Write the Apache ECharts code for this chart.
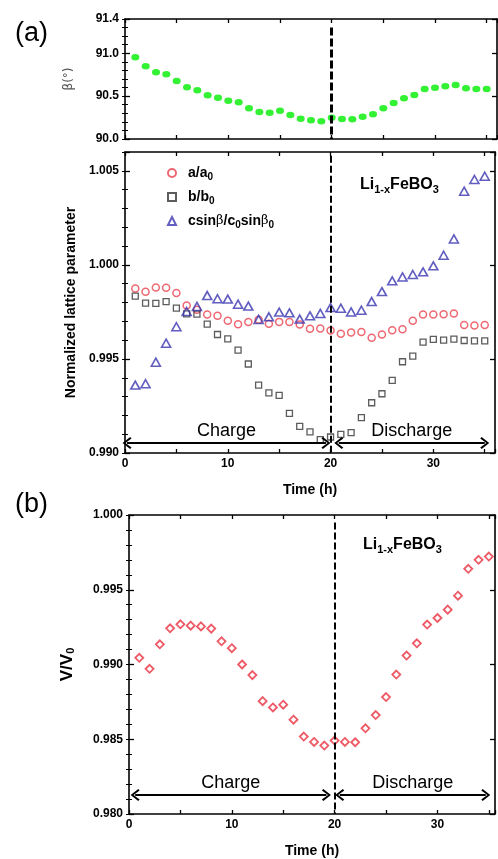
<!DOCTYPE html>
<html>
<head>
<meta charset="utf-8">
<script src="https://cdn.jsdelivr.net/npm/echarts@6/dist/echarts.min.js"></script>
<style>html,body{margin:0;padding:0;background:#fff}#c{width:498px;height:859px}</style>
</head>
<body>
<div id="c"></div>
<script>
// ---- data ----
const hours = [1,2,3,4,5,6,7,8,9,10,11,12,13,14,15,16,17,18,19,20,21,22,23,24,25,26,27,28,29,30,31,32,33,34,35];
const betaDeg = [90.953,90.848,90.778,90.755,90.677,90.603,90.568,90.510,90.482,90.447,90.428,90.358,90.315,90.307,90.331,90.280,90.237,90.218,90.206,90.249,90.233,90.229,90.261,90.288,90.358,90.420,90.475,90.513,90.583,90.599,90.615,90.630,90.591,90.583,90.583];
const aRatio = [0.99874,0.99857,0.99880,0.99878,0.99850,0.99784,0.99761,0.99736,0.99729,0.99703,0.99685,0.99696,0.99708,0.99687,0.99697,0.99696,0.99683,0.99660,0.99662,0.99651,0.99634,0.99641,0.99643,0.99612,0.99630,0.99653,0.99658,0.99703,0.99736,0.99736,0.99738,0.99742,0.99681,0.99678,0.99680];
const bRatio = [0.99834,0.99797,0.99795,0.99805,0.99770,0.99740,0.99738,0.99685,0.99630,0.99607,0.99547,0.99473,0.99361,0.99320,0.99306,0.99211,0.99142,0.99112,0.99071,0.99085,0.99099,0.99108,0.99188,0.99267,0.99315,0.99386,0.99485,0.99515,0.99589,0.99604,0.99600,0.99605,0.99598,0.99596,0.99596];
const cRatio = [0.99361,0.99368,0.99483,0.99584,0.99671,0.99752,0.99779,0.99837,0.99820,0.99818,0.99791,0.99781,0.99710,0.99724,0.99749,0.99745,0.99712,0.99729,0.99742,0.99773,0.99770,0.99750,0.99759,0.99805,0.99858,0.99915,0.99936,0.99949,0.99963,0.99995,1.00051,1.00138,1.00392,1.00454,1.00471];
const vRatio = [0.99045,0.98971,0.99135,0.99242,0.99269,0.99260,0.99255,0.99240,0.99155,0.99109,0.99000,0.98929,0.98755,0.98713,0.98731,0.98631,0.98518,0.98482,0.98458,0.98491,0.98482,0.98480,0.98573,0.98662,0.98782,0.98933,0.99060,0.99142,0.99267,0.99311,0.99367,0.99460,0.99640,0.99700,0.99722];
const seriesNames = ['a/a0', 'b/b0', 'csinβ/c0sinβ0'];
const switchHour = 20;
const betaTicks = [90.0, 90.5, 91.0, 91.4];
const latticeTicks = [0.990, 0.995, 1.000, 1.005];
const volumeTicks = [0.980, 0.985, 0.990, 0.995, 1.000];
const timeTicks = [0, 10, 20, 30];

// ---- styling ----
const FF = '"Liberation Sans", Arial, sans-serif';
const lineBlack = {color: '#000', width: 1.6};
const pair = (xs, ys) => xs.map((x, i) => [x, ys[i]]);

function xAxes(grid, max, showLabels, name) {
  const base = {
    type: 'value', gridIndex: grid, min: 0, max: max, interval: 5,
    axisLine: {show: true, onZero: false, lineStyle: lineBlack},
    axisTick: {show: true, inside: true, length: 4, lineStyle: {color: '#000', width: 1.3}},
    splitLine: {show: false}
  };
  return [
    Object.assign({}, base, {
      position: 'bottom',
      axisLabel: {show: showLabels, margin: 5, fontFamily: FF, fontWeight: 'bold', fontSize: 12, color: '#000',
        formatter: v => timeTicks.includes(v) ? String(v) : ''},
      name: name || '', nameLocation: 'middle', nameGap: 30,
      nameTextStyle: {fontFamily: FF, fontWeight: 'bold', fontSize: 14, color: '#000'}
    }),
    Object.assign({}, base, {position: 'top', axisLabel: {show: false}})
  ];
}

function yAxes(grid, min, max, interval, minor, digits, labels, name, nameGap, nameStyle) {
  const major = {
    type: 'value', gridIndex: grid, min: min, max: max, interval: interval,
    axisLine: {show: true, onZero: false, lineStyle: lineBlack},
    axisTick: {show: true, inside: true, length: 5, lineStyle: {color: '#000', width: 1.3}},
    splitLine: {show: false}
  };
  const minorAx = {
    type: 'value', gridIndex: grid, min: min, max: max, interval: minor,
    axisLine: {show: false}, axisLabel: {show: false},
    axisTick: {show: true, inside: true, length: 3, lineStyle: {color: '#000', width: 1}},
    splitLine: {show: false}
  };
  return [
    Object.assign({}, major, {
      position: 'left',
      axisLabel: {show: true, margin: 6, fontFamily: FF, fontWeight: 'bold', fontSize: 12, color: '#000',
        showMaxLabel: true,
        formatter: v => labels.some(t => Math.abs(t - v) < 1e-7) ? v.toFixed(digits) : ''},
      name: name, nameLocation: 'middle', nameGap: nameGap, nameTextStyle: nameStyle
    }),
    Object.assign({}, minorAx, {position: 'left'}),
    Object.assign({}, major, {position: 'right', axisLabel: {show: false}}),
    Object.assign({}, minorAx, {position: 'right'})
  ];
}

const chevron = 'path://M5,0 L10,8.4 L8.7,10 L5,3.2 L1.3,10 L0,8.4 Z';
function arrowLine(x0, x1, y, text) {
  return [
    {coord: [x0, y], symbol: chevron, symbolSize: [12, 9]},
    {coord: [x1, y], symbol: chevron, symbolSize: [12, 9],
     lineStyle: {type: 'solid', width: 2, color: '#000'},
     label: {show: true, formatter: text, position: 'insideMiddleTop', distance: 3,
       fontFamily: FF, fontSize: 18, color: '#000'}}
  ];
}
function dashLine(yTop, yBot, width, dash) {
  return [
    {coord: [switchHour, yTop]},
    {coord: [switchHour, yBot], lineStyle: {type: dash, width: width, color: '#000'}}
  ];
}

const subRich = {
  m: {fontFamily: FF, fontWeight: 'bold', fontSize: 14, color: '#000', lineHeight: 18},
  g: {fontFamily: 'DejaVu Serif, serif', fontSize: 13, color: '#000', lineHeight: 18},
  s: {fontFamily: FF, fontWeight: 'bold', fontSize: 10, color: '#000', verticalAlign: 'bottom'}
};
const legendLabels = {
  'a/a0': '{m|a/a}{s|0}',
  'b/b0': '{m|b/b}{s|0}',
  'csinβ/c0sinβ0': '{m|csin}{g|β}{m|/c}{s|0}{m|sin}{g|β}{s|0}'
};
const liRich = {
  m: {fontFamily: FF, fontWeight: 'bold', fontSize: 16, color: '#000', lineHeight: 20},
  s: {fontFamily: FF, fontWeight: 'bold', fontSize: 11, color: '#000', verticalAlign: 'bottom'}
};

const option = {
  animation: false,
  backgroundColor: '#fff',
  title: [
    {text: '(a)', left: 10, top: 15, textStyle: {fontFamily: FF, fontWeight: 'normal', fontSize: 27, color: '#000'}},
    {text: '(b)', left: 10, top: 486, textStyle: {fontFamily: FF, fontWeight: 'normal', fontSize: 27, color: '#000'}},
    {text: '{m|Li}{s|1-x}{m|FeBO}{s|3}', left: 355, top: 170, textStyle: {rich: liRich}},
    {text: '{m|Li}{s|1-x}{m|FeBO}{s|3}', left: 358, top: 530, textStyle: {rich: liRich}}
  ],
  legend: {
    data: seriesNames, orient: 'vertical', left: 162, top: 161,
    itemWidth: 8, itemHeight: 8, itemGap: 8,
    formatter: n => legendLabels[n],
    textStyle: {rich: subRich, padding: [0, 0, 0, 7]}
  },
  grid: [
    {left: 125, top: 19, width: 372, height: 120},
    {left: 125, top: 152, width: 372, height: 301},
    {left: 129, top: 515, width: 368, height: 300}
  ],
  xAxis: [].concat(
    xAxes(0, 36, false, ''),
    xAxes(1, 36, true, 'Time (h)'),
    xAxes(2, 35.6, true, 'Time (h)')
  ),
  yAxis: [].concat(
    yAxes(0, 90, 91.4, 0.5, 0.1, 1, betaTicks, 'β(°)', 50,
      {fontFamily: '"DejaVu Sans", sans-serif', fontSize: 12, color: '#555'}),
    yAxes(1, 0.990, 1.006, 0.005, 0.001, 3, latticeTicks, 'Normalized lattice parameter', 47,
      {fontFamily: FF, fontWeight: 'bold', fontSize: 14, color: '#000'}),
    yAxes(2, 0.980, 1.000, 0.005, 0.001, 3, volumeTicks, 'V/V{s|0}', 53,
      {fontFamily: FF, fontWeight: 'bold', fontSize: 17, color: '#000',
       rich: {s: {fontFamily: FF, fontWeight: 'bold', fontSize: 11, color: '#000', verticalAlign: 'bottom'}}})
  ),
  series: [
    {
      name: 'beta', type: 'scatter', xAxisIndex: 0, yAxisIndex: 0,
      data: pair(hours, betaDeg), symbol: 'circle', symbolSize: [8, 6.5],
      itemStyle: {color: '#00ee00'},
      markLine: {silent: true, symbol: 'none', label: {show: false},
        data: [dashLine(91.3, 90.0, 3, [8, 3])]}
    },
    {
      name: seriesNames[0], type: 'scatter', xAxisIndex: 2, yAxisIndex: 4,
      data: pair(hours, aRatio), symbol: 'circle', symbolSize: 7,
      itemStyle: {color: 'rgba(255,255,255,0)', borderColor: '#e8424f', borderWidth: 1.5},
      markLine: {silent: true, symbol: 'none', label: {show: false},
        data: [
          dashLine(1.0058, 0.990, 2, [7, 3]),
          arrowLine(0.2, 19.55, 0.99053, 'Charge'),
          arrowLine(20.8, 35.0, 0.99053, 'Discharge')
        ]}
    },
    {
      name: seriesNames[1], type: 'scatter', xAxisIndex: 2, yAxisIndex: 4,
      data: pair(hours, bRatio), symbol: 'rect', symbolSize: 6,
      itemStyle: {color: 'rgba(255,255,255,0)', borderColor: '#333', borderWidth: 1.3}
    },
    {
      name: seriesNames[2], type: 'scatter', xAxisIndex: 2, yAxisIndex: 4,
      data: pair(hours, cRatio), symbol: 'triangle', symbolSize: [9, 8],
      itemStyle: {color: 'rgba(255,255,255,0)', borderColor: '#3a36b0', borderWidth: 1.6}
    },
    {
      name: 'V/V0', type: 'scatter', xAxisIndex: 4, yAxisIndex: 8,
      data: pair(hours, vRatio), symbol: 'diamond', symbolSize: 8,
      itemStyle: {color: 'rgba(255,255,255,0)', borderColor: '#e8303e', borderWidth: 1.8},
      markLine: {silent: true, symbol: 'none', label: {show: false},
        data: [
          dashLine(0.9995, 0.980, 2, [7, 3]),
          arrowLine(0.6, 19.2, 0.98127, 'Charge'),
          arrowLine(20.5, 34.7, 0.98127, 'Discharge')
        ]}
    }
  ]
};

const chart = echarts.init(document.getElementById('c'), null, {renderer: 'canvas'});
chart.setOption(option);
</script>
</body>
</html>
